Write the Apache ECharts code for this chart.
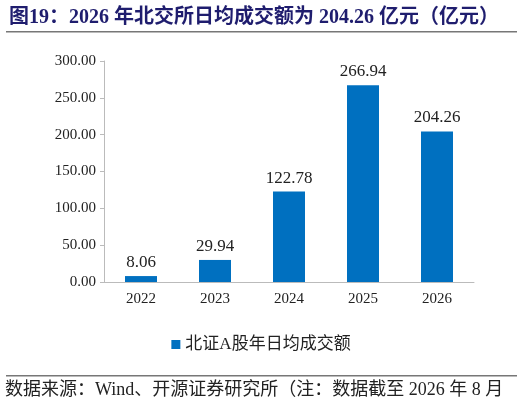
<!DOCTYPE html><html><head><meta charset="utf-8"><script src="https://cdn.jsdelivr.net/npm/echarts@6/dist/echarts.min.js"></script>
<style>body{margin:0}#c{width:522px;height:406px}</style></head><body><div id="c"></div><script>
const categories=['2022','2023','2024','2025','2026'];
const values=[8.06,29.94,122.78,266.94,204.26];
const seriesName='北证A股年日均成交额';
const F='"Liberation Serif","Noto Sans CJK SC",serif';
const c=echarts.init(document.getElementById('c'));
c.setOption({
 animation:false,
 title:{text:'图19：2026 年北交所日均成交额为 204.26 亿元（亿元）',left:4,top:3,textStyle:{fontFamily:F,fontSize:20,fontWeight:'bold',color:'#1f1d6e'}},
 graphic:[
  {type:'rect',shape:{x:6,y:31,width:511,height:1.5},style:{fill:'#777'}},
  {type:'rect',shape:{x:6,y:375,width:511,height:1.5},style:{fill:'#777'}},
  {type:'text',left:5,top:381,style:{text:'数据来源：Wind、开源证券研究所（注：数据截至 2026 年 8 月',font:'18px '+F,fill:'#222'}}
 ],
 legend:{top:331,left:'center',itemWidth:9,itemHeight:9,icon:'rect',textStyle:{fontFamily:F,fontSize:17,color:'#222'},data:[seriesName]},
 grid:{left:104,right:48,top:61,bottom:124},
 xAxis:{type:'category',data:categories,axisTick:{show:false},axisLine:{lineStyle:{color:'#bbb'}},axisLabel:{fontFamily:F,fontSize:15,color:'#222',margin:10}},
 yAxis:{type:'value',min:0,max:300,interval:50,splitLine:{show:false},axisLine:{show:true,lineStyle:{color:'#bbb'}},axisTick:{show:true,length:4,lineStyle:{color:'#bbb'}},axisLabel:{fontFamily:F,fontSize:15,color:'#222',formatter:v=>v.toFixed(2)}},
 series:[{name:seriesName,type:'bar',data:values,barWidth:32,itemStyle:{color:'#0070c0'},label:{show:true,position:'top',fontFamily:F,fontSize:17,color:'#222',formatter:p=>p.value.toFixed(2)}}]
});
</script></body></html>
